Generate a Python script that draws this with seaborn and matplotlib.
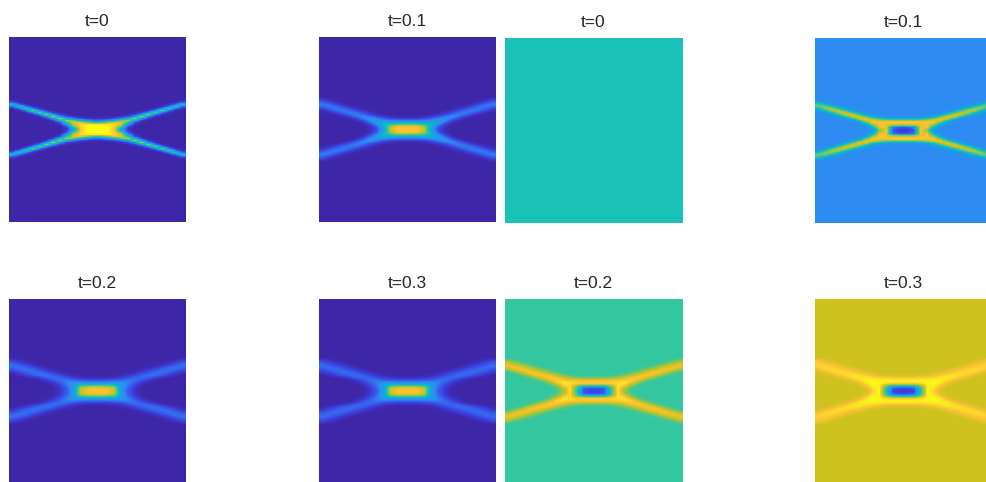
import numpy as np
import seaborn as sns
import matplotlib.pyplot as plt
from matplotlib.colors import LinearSegmentedColormap

sns.set_theme(style="white")
plt.rcParams['font.family'] = ['Liberation Sans', 'DejaVu Sans']

titles = ['t=0', 't=0.1', 't=0.2', 't=0.3']

# values, in % of the colour scale
# one quadrant per panel: rows go up from the centre, columns go out from the centre
left_t0 = [
    [100, 100, 92, 42, 6, 0, 0, 0, 0, 0, 0, 0, 0],
    [100, 100, 95, 70, 12, 0, 0, 0, 0, 0, 0, 0, 0],
    [98, 98, 96, 85, 35, 3, 0, 0, 0, 0, 0, 0, 0],
    [60, 75, 90, 88, 60, 12, 0, 0, 0, 0, 0, 0, 0],
    [20, 30, 45, 70, 82, 45, 8, 0, 0, 0, 0, 0, 0],
    [4, 6, 10, 22, 40, 82, 35, 6, 0, 0, 0, 0, 0],
    [0, 0, 2, 5, 10, 30, 85, 28, 4, 0, 0, 0, 0],
    [0, 0, 0, 0, 3, 8, 28, 82, 25, 4, 0, 0, 0],
    [0, 0, 0, 0, 0, 2, 6, 24, 76, 24, 4, 0, 0],
    [0, 0, 0, 0, 0, 0, 0, 5, 22, 78, 22, 3, 0],
    [0, 0, 0, 0, 0, 0, 0, 0, 4, 20, 68, 20, 3],
    [0, 0, 0, 0, 0, 0, 0, 0, 0, 3, 18, 62, 18],
    [0, 0, 0, 0, 0, 0, 0, 0, 0, 0, 3, 16, 52],
    [0, 0, 0, 0, 0, 0, 0, 0, 0, 0, 0, 3, 14],
    [0, 0, 0, 0, 0, 0, 0, 0, 0, 0, 0, 0, 3],
    [0, 0, 0, 0, 0, 0, 0, 0, 0, 0, 0, 0, 0],
]
left_t1 = [
    [93, 92, 82, 38, 12, 3, 0, 0, 0, 0, 0, 0, 0],
    [90, 90, 78, 45, 16, 4, 0, 0, 0, 0, 0, 0, 0],
    [70, 68, 60, 48, 27, 9, 1, 0, 0, 0, 0, 0, 0],
    [42, 42, 42, 42, 36, 18, 4, 0, 0, 0, 0, 0, 0],
    [22, 22, 24, 30, 33, 28, 12, 3, 0, 0, 0, 0, 0],
    [8, 8, 10, 14, 24, 29, 22, 9, 2, 0, 0, 0, 0],
    [1, 1, 3, 6, 11, 20, 27, 20, 9, 3, 0, 0, 0],
    [0, 0, 0, 1, 4, 9, 18, 24, 18, 10, 4, 1, 0],
    [0, 0, 0, 0, 1, 4, 10, 18, 23, 18, 10, 4, 1],
    [0, 0, 0, 0, 0, 1, 4, 10, 18, 23, 18, 10, 4],
    [0, 0, 0, 0, 0, 0, 1, 4, 10, 18, 23, 18, 10],
    [0, 0, 0, 0, 0, 0, 0, 1, 4, 10, 18, 23, 18],
    [0, 0, 0, 0, 0, 0, 0, 0, 1, 4, 10, 18, 23],
    [0, 0, 0, 0, 0, 0, 0, 0, 0, 1, 4, 10, 18],
    [0, 0, 0, 0, 0, 0, 0, 0, 0, 0, 1, 4, 10],
    [0, 0, 0, 0, 0, 0, 0, 0, 0, 0, 0, 1, 4],
]
left_t2 = [
    [92, 91, 84, 32, 15, 5, 1, 0, 0, 0, 0, 0, 0],
    [90, 89, 80, 34, 17, 6, 1, 0, 0, 0, 0, 0, 0],
    [74, 72, 64, 34, 19, 8, 2, 0, 0, 0, 0, 0, 0],
    [40, 40, 40, 34, 23, 12, 4, 1, 0, 0, 0, 0, 0],
    [24, 24, 25, 26, 24, 17, 8, 3, 0, 0, 0, 0, 0],
    [11, 11, 13, 16, 21, 20, 14, 7, 2, 0, 0, 0, 0],
    [3, 3, 5, 8, 13, 18, 20, 15, 8, 3, 1, 0, 0],
    [1, 1, 2, 3, 7, 12, 17, 21, 17, 12, 6, 2, 0],
    [0, 0, 1, 1, 3, 6, 12, 17, 21, 17, 12, 6, 2],
    [0, 0, 0, 0, 1, 2, 6, 12, 17, 21, 17, 12, 6],
    [0, 0, 0, 0, 0, 1, 2, 6, 12, 17, 21, 17, 12],
    [0, 0, 0, 0, 0, 0, 1, 2, 6, 12, 17, 21, 17],
    [0, 0, 0, 0, 0, 0, 0, 1, 2, 6, 12, 17, 21],
    [0, 0, 0, 0, 0, 0, 0, 0, 1, 2, 6, 12, 17],
    [0, 0, 0, 0, 0, 0, 0, 0, 0, 1, 2, 6, 12],
    [0, 0, 0, 0, 0, 0, 0, 0, 0, 0, 1, 2, 6],
]
left_t3 = [
    [92, 91, 85, 34, 16, 6, 1, 0, 0, 0, 0, 0, 0],
    [90, 89, 81, 36, 18, 7, 1, 0, 0, 0, 0, 0, 0],
    [72, 70, 63, 36, 20, 9, 2, 0, 0, 0, 0, 0, 0],
    [38, 38, 38, 34, 23, 13, 5, 1, 0, 0, 0, 0, 0],
    [24, 24, 25, 25, 23, 17, 9, 3, 0, 0, 0, 0, 0],
    [12, 12, 13, 15, 20, 19, 14, 7, 2, 0, 0, 0, 0],
    [4, 4, 6, 8, 12, 17, 19, 15, 8, 3, 1, 0, 0],
    [1, 1, 2, 3, 7, 12, 16, 20, 16, 12, 7, 3, 0],
    [0, 0, 1, 1, 3, 7, 12, 16, 20, 16, 12, 7, 3],
    [0, 0, 0, 0, 1, 3, 7, 12, 16, 20, 16, 12, 7],
    [0, 0, 0, 0, 0, 1, 3, 7, 12, 16, 20, 16, 12],
    [0, 0, 0, 0, 0, 0, 1, 3, 7, 12, 16, 20, 16],
    [0, 0, 0, 0, 0, 0, 0, 1, 3, 7, 12, 16, 20],
    [0, 0, 0, 0, 0, 0, 0, 0, 1, 3, 7, 12, 16],
    [0, 0, 0, 0, 0, 0, 0, 0, 0, 1, 3, 7, 12],
    [0, 0, 0, 0, 0, 0, 0, 0, 0, 0, 1, 3, 7],
]
right_t0 = [[56]]
right_t1 = [
    [8, 14, 92, 78, 32, 26, 26, 26, 26, 26, 26, 26, 26],
    [14, 22, 90, 90, 46, 28, 26, 26, 26, 26, 26, 26, 26],
    [72, 75, 90, 93, 68, 34, 26, 26, 26, 26, 26, 26, 26],
    [93, 93, 92, 93, 88, 52, 29, 26, 26, 26, 26, 26, 26],
    [91, 91, 90, 90, 92, 80, 42, 28, 26, 26, 26, 26, 26],
    [60, 60, 64, 72, 84, 91, 78, 44, 28, 26, 26, 26, 26],
    [32, 32, 34, 40, 54, 80, 90, 78, 46, 30, 26, 26, 26],
    [26, 26, 27, 29, 34, 50, 78, 88, 78, 48, 30, 26, 26],
    [26, 26, 26, 26, 27, 31, 48, 76, 87, 76, 46, 30, 26],
    [26, 26, 26, 26, 26, 27, 30, 46, 74, 85, 74, 44, 30],
    [26, 26, 26, 26, 26, 26, 27, 30, 44, 72, 82, 70, 42],
    [26, 26, 26, 26, 26, 26, 26, 27, 29, 42, 68, 78, 66],
    [26, 26, 26, 26, 26, 26, 26, 26, 27, 29, 40, 64, 72],
    [26, 26, 26, 26, 26, 26, 26, 26, 26, 27, 28, 38, 58],
    [26, 26, 26, 26, 26, 26, 26, 26, 26, 26, 27, 28, 36],
    [26, 26, 26, 26, 26, 26, 26, 26, 26, 26, 26, 27, 28],
]
right_t2 = [
    [10, 14, 62, 98, 76, 66, 65, 65, 65, 65, 65, 65, 65],
    [14, 18, 64, 98, 82, 68, 65, 65, 65, 65, 65, 65, 65],
    [56, 58, 76, 97, 92, 73, 66, 65, 65, 65, 65, 65, 65],
    [92, 92, 94, 97, 97, 84, 69, 65, 65, 65, 65, 65, 65],
    [94, 94, 94, 95, 97, 94, 78, 67, 65, 65, 65, 65, 65],
    [88, 88, 89, 90, 93, 95, 90, 77, 67, 65, 65, 65, 65],
    [72, 73, 75, 79, 86, 92, 94, 89, 76, 67, 65, 65, 65],
    [66, 66, 67, 69, 75, 84, 91, 93, 89, 76, 67, 65, 65],
    [65, 65, 65, 66, 68, 74, 83, 90, 92, 89, 75, 67, 65],
    [65, 65, 65, 65, 65, 67, 73, 83, 90, 92, 88, 75, 67],
    [65, 65, 65, 65, 65, 65, 67, 73, 82, 89, 92, 88, 75],
    [65, 65, 65, 65, 65, 65, 65, 67, 72, 82, 89, 91, 87],
    [65, 65, 65, 65, 65, 65, 65, 65, 67, 72, 81, 88, 90],
    [65, 65, 65, 65, 65, 65, 65, 65, 65, 67, 72, 80, 87],
    [65, 65, 65, 65, 65, 65, 65, 65, 65, 65, 66, 71, 79],
    [65, 65, 65, 65, 65, 65, 65, 65, 65, 65, 65, 66, 71],
]
right_t3 = [
    [8, 10, 56, 100, 95, 86, 85, 85, 85, 85, 85, 85, 85],
    [12, 16, 58, 99, 97, 88, 85, 85, 85, 85, 85, 85, 85],
    [50, 54, 74, 99, 99, 92, 86, 85, 85, 85, 85, 85, 85],
    [90, 90, 94, 99, 100, 96, 88, 85, 85, 85, 85, 85, 85],
    [99, 99, 99, 99, 100, 98, 93, 87, 85, 85, 85, 85, 85],
    [98, 98, 98, 98, 99, 99, 97, 92, 87, 85, 85, 85, 85],
    [93, 93, 94, 95, 96, 98, 98, 96, 92, 87, 85, 85, 85],
    [87, 87, 88, 89, 92, 95, 97, 97, 95, 92, 87, 85, 85],
    [85, 85, 85, 86, 88, 91, 94, 96, 96, 95, 91, 87, 85],
    [85, 85, 85, 85, 85, 87, 90, 93, 95, 96, 95, 91, 87],
    [85, 85, 85, 85, 85, 85, 87, 90, 93, 95, 96, 95, 91],
    [85, 85, 85, 85, 85, 85, 85, 87, 90, 93, 95, 95, 94],
    [85, 85, 85, 85, 85, 85, 85, 85, 87, 90, 93, 95, 95],
    [85, 85, 85, 85, 85, 85, 85, 85, 85, 87, 90, 93, 94],
    [85, 85, 85, 85, 85, 85, 85, 85, 85, 85, 87, 90, 93],
    [85, 85, 85, 85, 85, 85, 85, 85, 85, 85, 85, 87, 90],
]

# parula-like colour scale
parula = LinearSegmentedColormap.from_list('parula', [
    (0.0, '#3e26a8'), (0.1, '#3c44e6'), (0.26, '#2e8cf2'), (0.38, '#14a5e0'),
    (0.5, '#12b8c8'), (0.56, '#19c1b7'), (0.65, '#34c6a0'), (0.78, '#a3c83c'),
    (0.85, '#cfc21f'), (0.93, '#fec337'), (1.0, '#f9fb15')])


def full_panel(quad, pad_rows=46):
    # the X is symmetric, so mirror the quadrant and fill the rest with the background
    q = np.array(quad)
    q = np.vstack([q, np.full((pad_rows - q.shape[0], q.shape[1]), q[0, -1])])
    top = np.hstack([q[:, ::-1], q])
    return np.vstack([top[::-1, :], top])


panels = [
    (left_t0, titles[0], 9, 37), (left_t1, titles[1], 319, 37),
    (right_t0, titles[0], 505, 38), (right_t1, titles[1], 815, 38),
    (left_t2, titles[2], 9, 299), (left_t3, titles[3], 319, 299),
    (right_t2, titles[2], 505, 299), (right_t3, titles[3], 815, 299),
]

fig = plt.figure(figsize=(9.87, 4.82), dpi=100)
for quad, title, x0, y0 in panels:
    ax = fig.add_axes([x0 / 987, 1 - (y0 + 185) / 482, 177 / 987, 185 / 482])
    grid = full_panel(quad)
    sns.heatmap(grid, ax=ax, cmap=parula, vmin=0, vmax=100, cbar=False,
                xticklabels=False, yticklabels=False)
    # same cells again, smoothed, the original is a blurry screenshot
    ax.imshow(grid, cmap=parula, vmin=0, vmax=100, interpolation='bilinear',
              interpolation_stage='data',
              extent=(0, grid.shape[1], grid.shape[0], 0), aspect='auto', zorder=3)
    ax.set_xlim(0, grid.shape[1])
    ax.set_ylim(grid.shape[0], 0)
    ax.set_title(title, fontsize=12.5, color='#262626', pad=8)
    sns.despine(ax=ax, left=True, bottom=True)

fig.savefig('out.png', dpi=100)
